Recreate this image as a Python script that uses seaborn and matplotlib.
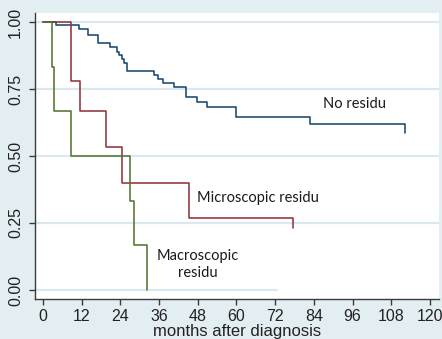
import numpy as np
import pandas as pd
import matplotlib
matplotlib.use("Agg")
import matplotlib.pyplot as plt
from matplotlib import font_manager as fm
import seaborn as sns

# Kaplan-Meier estimates by residual disease after surgery
months_none = [0, 4.0, 11.2, 14.0, 17.1, 20.8, 22.9, 23.7, 24.4, 25.1, 26.0,
               34.4, 35.8, 37.3, 40.6, 44.2, 47.7, 50.8, 59.8, 82.9, 112.2]
surv_none = [1.0, 0.989, 0.975, 0.951, 0.921, 0.908, 0.889, 0.877, 0.861, 0.846, 0.818,
             0.802, 0.787, 0.771, 0.756, 0.721, 0.703, 0.684, 0.644, 0.618, 0.587]

months_micro = [0, 8.6, 11.4, 19.4, 24.4, 45.3, 77.4]
surv_micro = [1.0, 0.778, 0.667, 0.533, 0.400, 0.267, 0.233]

months_macro = [0, 2.7, 3.5, 8.6, 27.0, 28.3, 32.3]
surv_macro = [1.0, 0.833, 0.667, 0.500, 0.333, 0.167, 0.0]

groups = ["No residu", "Microscopic residu", "Macroscopic residu"]
group_labels = ["No residu", "Microscopic residu", "Macroscopic\nresidu"]
label_pos = [(96.7, 0.694), (66.7, 0.345), (48.1, 0.095)]

x_ticks = list(range(0, 121, 12))
y_ticks = [0.0, 0.25, 0.5, 0.75, 1.0]
y_ticklabels = ["0.00", "0.25", "0.50", "0.75", "1.00"]

df = pd.concat([
    pd.DataFrame({"months": months_none, "survival": surv_none, "group": groups[0]}),
    pd.DataFrame({"months": months_micro, "survival": surv_micro, "group": groups[1]}),
    pd.DataFrame({"months": months_macro, "survival": surv_macro, "group": groups[2]}),
], ignore_index=True)

sns.set_theme(style="white")

installed = {f.name for f in fm.fontManager.ttflist}
def pick(*names):
    for n in names:
        if n in installed:
            return n
    return "DejaVu Sans"

axis_font = pick("Liberation Sans Narrow", "Liberation Sans")
note_font = pick("Lato", "Open Sans", "DejaVu Sans")
plt.rcParams["font.family"] = [axis_font, "DejaVu Sans"]

bg = "#e3eef2"
axis_col = "#3a3a3a"
palette = {"No residu": "#1a476f", "Microscopic residu": "#90353b",
           "Macroscopic residu": "#55752f"}

fig = plt.figure(figsize=(4.42, 3.39), dpi=100, facecolor=bg)
ax = fig.add_axes([35 / 442, 1 - 299 / 339, 404 / 442, 286 / 339])
ax.set_facecolor("white")

# horizontal reference lines
for yv in y_ticks:
    xmax = 0.60 if yv == 0.0 else 1.0
    ax.axhline(yv, xmin=0, xmax=xmax, color="#dbe8ed", lw=1.6, zorder=0)

sns.lineplot(data=df, x="months", y="survival", hue="group", hue_order=groups,
             palette=palette, drawstyle="steps-post", estimator=None, sort=False,
             legend=False, linewidth=1.15, ax=ax)

for txt, (tx, ty) in zip(group_labels, label_pos):
    ax.text(tx, ty, txt, ha="center", va="center", fontsize=10.5,
            family=[note_font, "DejaVu Sans"], color="#1a1a1a", linespacing=1.25)

ax.set_xlim(-2.48, 122.8)
ax.set_ylim(-0.0336, 1.0336)
ax.set_xticks(x_ticks)
ax.set_xticklabels([str(v) for v in x_ticks])
ax.set_yticks(y_ticks)
ax.set_yticklabels(y_ticklabels, rotation=90, va="center")

for side in ["top", "right"]:
    ax.spines[side].set_visible(False)
for side in ["left", "bottom"]:
    ax.spines[side].set_color(axis_col)
    ax.spines[side].set_linewidth(1.0)

ax.tick_params(axis="both", direction="out", length=4.5, width=1.0, color=axis_col,
               labelsize=11.5, labelcolor="#222222", bottom=True, left=True)
ax.tick_params(axis="y", pad=4)
ax.tick_params(axis="x", pad=3)

ax.set_xlabel("months after diagnosis", fontsize=12, color="#222222", labelpad=0)
ax.set_ylabel("")

fig.savefig("out.png", dpi=100, facecolor=bg)
